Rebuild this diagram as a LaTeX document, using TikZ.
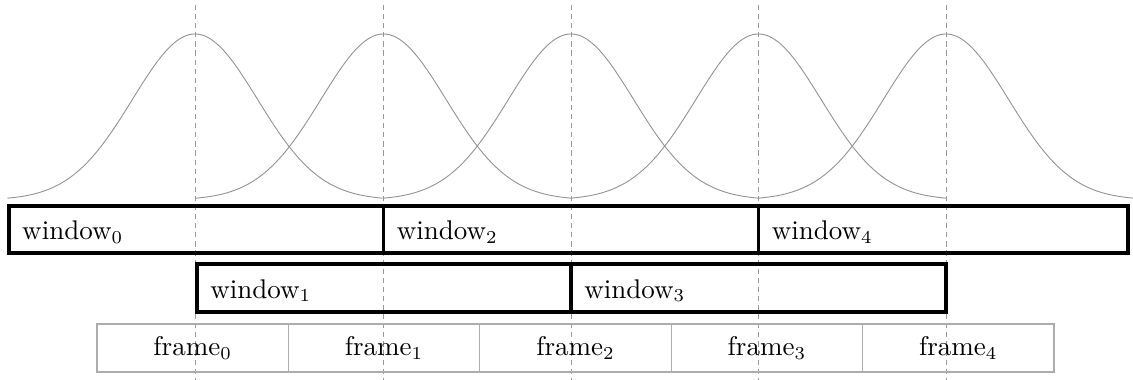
\documentclass[tikz,border=0pt]{standalone}
\usetikzlibrary{fit}
\begin{document}
\begin{tikzpicture}[x=0.385pt,y=-0.385pt,
  font=\fontsize{10.4}{12.5}\selectfont,
  guide/.style={gray!80, line width=0.3pt, dash pattern=on 2pt off 1.5pt},
  bell/.style={gray!85, line width=0.35pt},
  winbox/.style={draw=black, line width=1.2pt, inner sep=0pt},
  winlabel/.style={anchor=west, inner xsep=5.5pt, inner ysep=0pt, yshift=-1pt},
  framebox/.style={draw=gray!65, line width=0.4pt, inner sep=0pt},
  framelabel/.style={inner sep=0pt}]
\useasboundingbox (0,0) rectangle (1133,380);
% vertical guides
\foreach \c [count=\i from 0] in {195,383.5,571,758.5,946}{
  \coordinate (gt\i) at (\c,5);
  \coordinate (gb\i) at (\c,380);
  \draw[guide] (gt\i) -- (gb\i);
}
% gaussian windows
\foreach \c in {195,383.5,571,758.5,946}{
  \draw[bell] plot[domain=-187.5:187.5, samples=121, smooth]
    ({\c+\x}, {200-166*exp(-4.5*(\x/187.5)*(\x/187.5))});
}
% window row 1
\node[winbox, fit={(9,206) (383.5,253)}] (w0) {};
\node[winbox, fit={(383.5,206) (758.5,253)}] (w2) {};
\node[winbox, fit={(758.5,206) (1128,253)}] (w4) {};
% window row 2
\node[winbox, fit={(197,264) (571,312)}] (w1) {};
\node[winbox, fit={(571,264) (946,312)}] (w3) {};
\node[winlabel] (lw0) at (w0.west) {window$_0$};
\node[winlabel] (lw2) at (w2.west) {window$_2$};
\node[winlabel] (lw4) at (w4.west) {window$_4$};
\node[winlabel] (lw1) at (w1.west) {window$_1$};
\node[winlabel] (lw3) at (w3.west) {window$_3$};
% frames
\foreach \i in {0,...,4}{
  \pgfmathsetmacro{\xa}{97+191.4*\i}
  \pgfmathsetmacro{\xb}{97+191.4*(\i+1)}
  \node[framebox, fit={(\xa,324) (\xb,372)}] (f\i) {};
  \node[framelabel] (lf\i) at (f\i.center) {frame$_\i$};
}
\end{tikzpicture}
\end{document}
